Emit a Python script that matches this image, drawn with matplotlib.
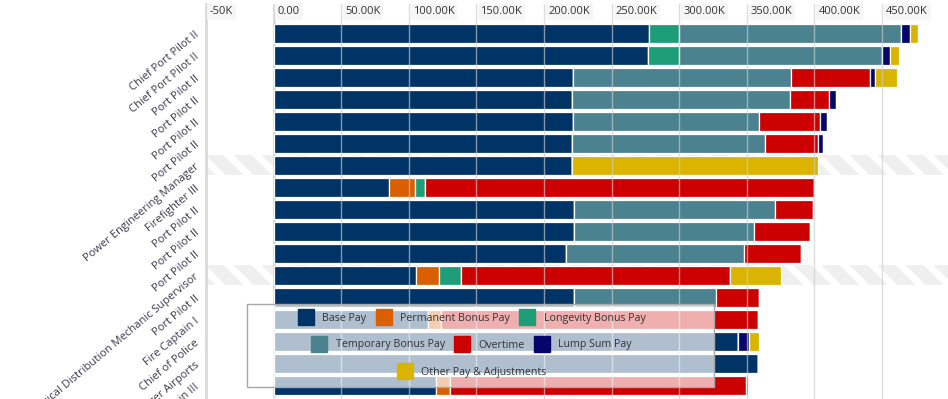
import numpy as np
import matplotlib
matplotlib.use("Agg")
import matplotlib.pyplot as plt
from matplotlib.patches import Rectangle
from matplotlib.lines import Line2D

plt.rcParams['font.family'] = ['Open Sans', 'DejaVu Sans']

# ---------------- data (thousands of dollars) ----------------
job_titles = ["Chief Port Pilot II", "Chief Port Pilot II", "Port Pilot II", "Port Pilot II",
              "Port Pilot II", "Port Pilot II", "Power Engineering Manager", "Firefighter III",
              "Port Pilot II", "Port Pilot II", "Port Pilot II",
              "Electrical Distribution Mechanic Supervisor", "Port Pilot II", "Fire Captain I",
              "Chief of Police", "General Manager Airports", "Fire Captain III", "Port Pilot II"]

base_pay      = [277.4, 277.1, 221.2, 220.9, 221.4, 220.9, 220.7, 85.6, 222.4, 222.4, 216.5, 105.0, 221.9, 114.4, 343.7, 358.5, 120.3, 221.7]
perm_bonus    = [0, 0, 0, 0, 0, 0, 0, 19.2, 0, 0, 0, 17.0, 0, 9.6, 0, 0, 10.4, 0]
longevity     = [22.2, 22.4, 0, 0, 0, 0, 0, 7.4, 0, 0, 0, 16.5, 0, 0, 0, 0, 0, 0]
temp_bonus    = [164.7, 150.2, 161.4, 161.3, 137.3, 142.2, 0, 0, 148.7, 133.1, 131.4, 0, 105.4, 0, 0, 0, 0, 124.8]
overtime      = [0, 0, 58.4, 28.6, 45.3, 39.2, 0, 287.2, 27.9, 40.9, 41.9, 199.4, 31.8, 234.5, 0, 0, 218.5, 30.0]
lump_sum      = [6.7, 6.4, 3.7, 5.2, 5.2, 4.4, 0, 0, 0, 0, 0, 0, 0, 0, 8.1, 0, 1.7, 0]
other_pay     = [5.4, 6.4, 16.3, 0, 0, 0, 182.0, 0, 0, 0, 0, 37.5, 0, 0, 7.4, 0, 0, 0]

highlighted_rows = [6, 11]

series_names = ["Base Pay", "Permanent Bonus Pay", "Longevity Bonus Pay",
                "Temporary Bonus Pay", "Overtime", "Lump Sum Pay", "Other Pay & Adjustments"]
series_colors = ["#003366", "#DA5F00", "#1E9E78", "#4A8290", "#CC0000", "#06066A", "#DAB400"]

tick_values = [-50, 0, 50, 100, 150, 200, 250, 300, 350, 400, 450]
tick_labels = ["-50K", "0.00", "50.00K", "100.00K", "150.00K", "200.00K", "250.00K",
               "300.00K", "350.00K", "400.00K", "450.00K"]

series = [base_pay, perm_bonus, longevity, temp_bonus, overtime, lump_sum, other_pay]

# ---------------- figure ----------------
W, H = 948, 399
fig = plt.figure(figsize=(W / 100, H / 100), dpi=100)
ax = fig.add_axes([206 / W, 0, 743.6 / W, 395 / H])

n = len(job_titles)
y = np.arange(n)

# striped background for highlighted rows
stripe_w_px, stripe_h_px = 744, 20
rows_i, cols_i = np.mgrid[0:stripe_h_px, 0:stripe_w_px]
mask = ((cols_i - rows_i) % 28) < 18
img = np.zeros((stripe_h_px, stripe_w_px, 4))
img[..., :3] = 0.94
img[..., 3] = mask.astype(float)
for r in highlighted_rows:
    ax.imshow(img, extent=(-50, 500, r + 0.45, r - 0.45), aspect='auto',
              interpolation='nearest', zorder=0.5)

left = np.zeros(n)
for vals, name, col in zip(series, series_names, series_colors):
    v = np.array(vals, dtype=float)
    ax.barh(y, v, left=left, height=0.88, color=col, edgecolor='white',
            linewidth=0.9, zorder=1)
    left += v

# gridlines on top
for t in tick_values[2:]:
    ax.axvline(t, color='#cdcdcd', alpha=0.65, lw=1, zorder=2.5)
ax.axvline(0, color='#d9d9d9', lw=2, zorder=0.8)

for s in ['top', 'right', 'bottom']:
    ax.spines[s].set_visible(False)
ax.spines['left'].set_color('#d9d9d9')
ax.spines['left'].set_linewidth(2)

ax.set_xticks(tick_values)
ax.tick_params(axis='x', length=0, labelbottom=False)

ax.set_yticks(y)
ax.set_yticklabels(job_titles, rotation=40, ha='right', va='center',
                   rotation_mode='anchor', fontsize=8, color='#3a3a4e')
ax.tick_params(axis='y', length=0, pad=6)

# limits set after ticks so they are not expanded
ax.set_xlim(-50, 500)
ax.set_ylim(16.614, -1.341)

for t, lab in zip(tick_values, tick_labels):
    ax.annotate(lab, xy=(t, 1), xycoords=('data', 'axes fraction'),
                xytext=(4, -8), textcoords='offset pixels', ha='left', va='center',
                fontsize=8, color='#333333', zorder=5, annotation_clip=False,
                bbox=dict(boxstyle='square,pad=0.25', fc='#f6f6f6', ec='none'))

# legend panel
fig.add_artist(Rectangle((247 / W, 1 - 387 / H), (714 - 247) / W, (387 - 304) / H,
                         transform=fig.transFigure, facecolor=(1, 1, 1, 0.69),
                         edgecolor='#a8a8a8', linewidth=1, zorder=4))

handles = [Line2D([], [], marker='s', linestyle='none', markersize=11.5,
                  markerfacecolor=c, markeredgecolor=c) for c in series_colors]
groups = [(0, 3, 318), (3, 6, 345), (6, 7, 372)]
for a, b, ypx in groups:
    fig.legend(handles=handles[a:b], labels=series_names[a:b], loc='center',
               bbox_to_anchor=(472 / W, 1 - ypx / H), bbox_transform=fig.transFigure,
               ncol=b - a, frameon=False, fontsize=7.7, handlelength=1.35,
               handletextpad=0.85, columnspacing=0.95, borderpad=0, borderaxespad=0,
               labelcolor='#333333')

fig.savefig("out.png", dpi=100)
